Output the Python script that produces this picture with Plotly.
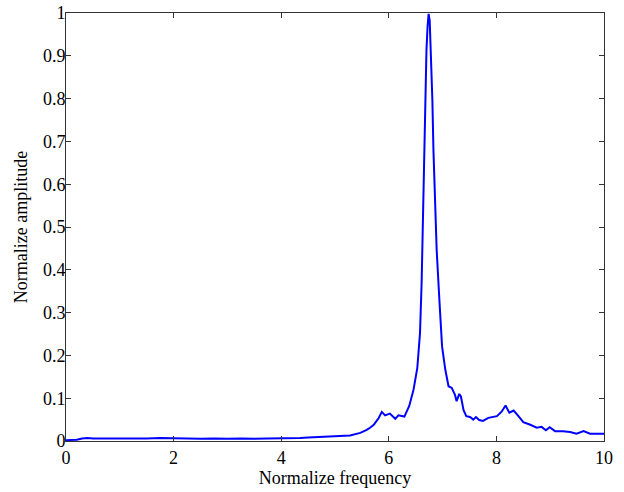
import plotly.graph_objects as go

freq = [0, 0.1, 0.2, 0.3, 0.4, 0.5, 0.75, 1.0, 1.25, 1.5, 1.75, 2.0, 2.25, 2.5, 2.75,
        3.0, 3.25, 3.5, 3.75, 4.0, 4.2, 4.35, 4.5, 4.73, 4.97, 5.1, 5.28, 5.47, 5.53,
        5.59, 5.65, 5.72, 5.78, 5.81, 5.87, 5.93, 6.02, 6.12, 6.18, 6.29, 6.38, 6.46,
        6.53, 6.58, 6.61, 6.63, 6.64, 6.66, 6.68, 6.70, 6.72, 6.74, 6.76, 6.78, 6.81,
        6.83, 6.86, 6.89, 6.94, 6.99, 7.05, 7.11, 7.17, 7.23, 7.26, 7.31, 7.34, 7.39,
        7.44, 7.51, 7.57, 7.62, 7.68, 7.75, 7.85, 8.01, 8.10, 8.17, 8.24, 8.32, 8.41,
        8.50, 8.63, 8.75, 8.84, 8.92, 8.99, 9.09, 9.24, 9.37, 9.49, 9.62, 9.74, 9.93, 10.0]
amp = [0.002, 0.002, 0.003, 0.006, 0.007, 0.006, 0.006, 0.006, 0.005, 0.006, 0.007, 0.006,
       0.006, 0.005, 0.006, 0.005, 0.006, 0.005, 0.006, 0.006, 0.007, 0.007, 0.008, 0.009,
       0.010, 0.011, 0.013, 0.019, 0.022, 0.026, 0.031, 0.038, 0.048, 0.053, 0.068, 0.060,
       0.064, 0.052, 0.060, 0.057, 0.082, 0.12, 0.171, 0.252, 0.369, 0.485, 0.602, 0.718,
       0.812, 0.913, 0.967, 0.998, 0.983, 0.913, 0.796, 0.679, 0.563, 0.446, 0.330, 0.221,
       0.167, 0.128, 0.124, 0.108, 0.093, 0.110, 0.104, 0.072, 0.058, 0.056, 0.050, 0.056,
       0.049, 0.047, 0.054, 0.058, 0.069, 0.083, 0.066, 0.071, 0.058, 0.044, 0.038, 0.031,
       0.033, 0.025, 0.032, 0.023, 0.023, 0.021, 0.017, 0.023, 0.017, 0.017, 0.017]

x_ticks = [0, 2, 4, 6, 8, 10]
y_ticks = [0, 0.1, 0.2, 0.3, 0.4, 0.5, 0.6, 0.7, 0.8, 0.9, 1]
y_tick_text = ["0", "0.1", "0.2", "0.3", "0.4", "0.5", "0.6", "0.7", "0.8", "0.9", "1"]

font = dict(family="Liberation Serif, Times New Roman, serif", size=18, color="black")

fig = go.Figure(go.Scatter(x=freq, y=amp, mode="lines",
                           line=dict(color="#0000FF", width=2)))

axis_common = dict(showline=True, linecolor="#333333", linewidth=1, mirror="ticks",
                   ticks="inside", ticklen=5, tickcolor="#333333", showgrid=False,
                   zeroline=False, tickfont=font, automargin=False,
                   ticklabeloverflow="allow")

fig.update_xaxes(range=[0, 10], tickvals=x_ticks,
                 title=dict(text="Normalize frequency", font=font, standoff=2),
                 ticklabelstandoff=0, **axis_common)
fig.update_yaxes(range=[0, 1], tickvals=y_ticks, ticktext=y_tick_text,
                 title=dict(text="Normalize amplitude", font=font, standoff=10),
                 ticklabelstandoff=-4, **axis_common)

fig.update_layout(width=624, height=492, margin=dict(l=65.5, r=20, t=12.5, b=50.5),
                  plot_bgcolor="white", paper_bgcolor="white", showlegend=False, font=font)

fig.write_html("out.html", config={"displayModeBar": False},
               post_script="document.body.style.margin='0';")
